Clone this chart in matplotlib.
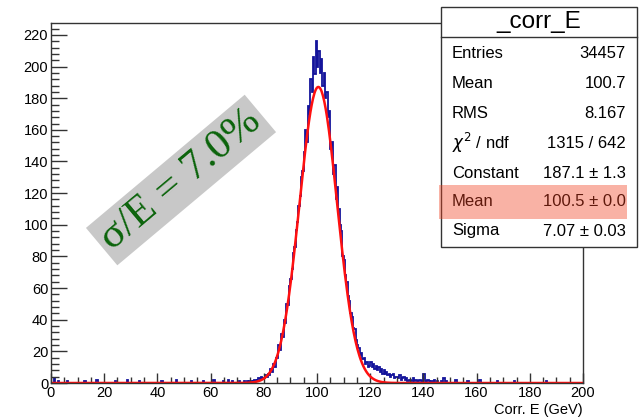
import numpy as np
import matplotlib
matplotlib.use("Agg")
import matplotlib.pyplot as plt
from matplotlib.patches import Rectangle
from matplotlib.lines import Line2D

plt.rcParams['font.family'] = ['Liberation Sans', 'DejaVu Sans']

# histogram contents, 0.5 GeV bins starting at 70 GeV
bin_width = 0.5
core_start = 70.0
core_counts = [
    0, 1, 0, 0, 0, 1, 0, 1, 0, 1,
    1, 0, 1, 2, 1, 2, 3, 2, 4, 3,
    3, 5, 4, 6, 5, 9, 7, 12, 10, 16,
    16, 24, 21, 31, 29, 40, 38, 50, 49, 61,
    66, 72, 82, 86, 97, 102, 112, 118, 130, 134,
    146, 160, 152, 175, 170, 192, 184, 206, 195, 216,
    200, 210, 196, 205, 188, 196, 180, 184, 168, 172,
    148, 152, 132, 138, 116, 124, 110, 100, 96, 80,
    78, 68, 64, 55, 52, 44, 42, 35, 34, 27,
    24, 22, 18, 19, 15, 16, 12, 13, 10, 11,
    13, 10, 12, 9, 11, 8, 10, 7, 9, 6,
    8, 6, 7, 5, 6, 4, 5, 6, 3, 4,
    4, 3, 5, 2, 3, 4, 2, 3, 1, 2,
    2, 1, 3, 1, 2, 0, 1, 2, 1, 0,
    6, 1, 0, 2, 1, 0, 1, 0, 2, 0,
    1, 0, 0, 1, 0, 3, 0, 1, 0, 0,
]
# sparse entries far from the peak
tail_x = [1.0, 2.5, 6.0, 12.5, 17.0, 24.0, 28.5, 33.0, 41.5, 47.0, 52.5, 57.0,
          61.0, 64.5, 66.5, 68.0, 152.0, 156.5, 161.0, 167.5, 174.0, 186.0]
tail_y = [3, 1, 1, 1, 2, 1, 2, 1, 1, 2, 1, 1, 2, 1, 2, 1, 2, 1, 2, 1, 1, 1]

# gaussian fit parameters from the stats box
fit_const = 187.1
fit_mean = 100.5
fit_sigma = 7.07

stats_labels = ["Entries", "Mean", "RMS", r"$\chi^2$ / ndf", "Constant", "Mean", "Sigma"]
stats_values = ["34457", "100.7", "8.167", "1315 / 642", u"187.1 \u00b1 1.3",
                u"100.5 \u00b1 0.0", u"7.07 \u00b1 0.03"]

edges = np.arange(0, 200 + bin_width, bin_width)
counts = np.zeros(len(edges) - 1)
i0 = int(round(core_start / bin_width))
counts[i0:i0 + len(core_counts)] = core_counts
for x, y in zip(tail_x, tail_y):
    counts[int(x / bin_width)] += y

fig = plt.figure(figsize=(6.43, 4.17), dpi=100)
ax = fig.add_axes([0.0793, 0.0815, 0.9067 - 0.0793, 0.9448 - 0.0815])

ax.stairs(counts, edges, color='#14149b', lw=1.3)
xf = np.linspace(0, 200, 801)
ax.plot(xf, fit_const * np.exp(-0.5 * ((xf - fit_mean) / fit_sigma) ** 2),
        color='#ff1010', lw=1.8)

ax.set_xlim(0, 200)
ax.set_ylim(0, 227.5)
ax.set_xticks(np.arange(0, 201, 20))
ax.set_xticks(np.arange(0, 201, 5), minor=True)
ax.set_yticks(np.arange(0, 221, 20))
ax.set_yticks(np.arange(0, 228, 4), minor=True)
ax.tick_params(axis='both', which='both', direction='in', labelsize=10.5, colors='#333333',
               labelcolor='black')
ax.tick_params(axis='y', which='major', length=11.5, width=1)
ax.tick_params(axis='y', which='minor', length=5.8, width=1)
ax.tick_params(axis='x', which='major', length=7.5, width=1, pad=2)
ax.tick_params(axis='x', which='minor', length=4, width=1)
ax.tick_params(axis='y', pad=2)
for s in ax.spines.values():
    s.set_color('#333333')
    s.set_linewidth(1)

ax.set_xlabel("Corr. E (GeV)", fontsize=10.5, ha='right', x=1.0, labelpad=2)

# rotated annotation
fig.text(0.2815, 0.5683, u"\u03c3/E = 7.0%", family=['Liberation Serif', 'DejaVu Serif'],
         fontsize=31, color='#0b640b', rotation=40, rotation_mode='anchor',
         ha='center', va='center',
         bbox=dict(boxstyle='square,pad=0.12', fc='#c8c8c8', ec='none'))

# stats box
bl, br, bt, bb = 0.6858, 0.9907, 0.9832, 0.4077
fig.patches.append(Rectangle((bl, bb), br - bl, bt - bb, transform=fig.transFigure,
                             fc='white', ec='#333333', lw=1, zorder=5))
fig.lines.append(Line2D([bl, br], [1 - 37 / 417, 1 - 37 / 417], transform=fig.transFigure,
                        color='#333333', lw=1, zorder=6))
fig.text((bl + br) / 2, 1 - 22 / 417, "_corr_E", fontsize=17.5, ha='center', va='center',
         zorder=7)
row_y = [53, 83, 113, 143, 173, 202, 231]
for lab, val, yy in zip(stats_labels, stats_values, row_y):
    fig.text(452 / 643, 1 - yy / 417, lab, fontsize=12, ha='left', va='center', zorder=7)
    fig.text(626 / 643, 1 - yy / 417, val, fontsize=12, ha='right', va='center', zorder=7)
fig.patches.append(Rectangle((439 / 643, 1 - 219 / 417), 188 / 643, 34 / 417,
                             transform=fig.transFigure, fc='#f04020', alpha=0.4,
                             ec='none', zorder=8))

fig.savefig("out.png", dpi=100)
